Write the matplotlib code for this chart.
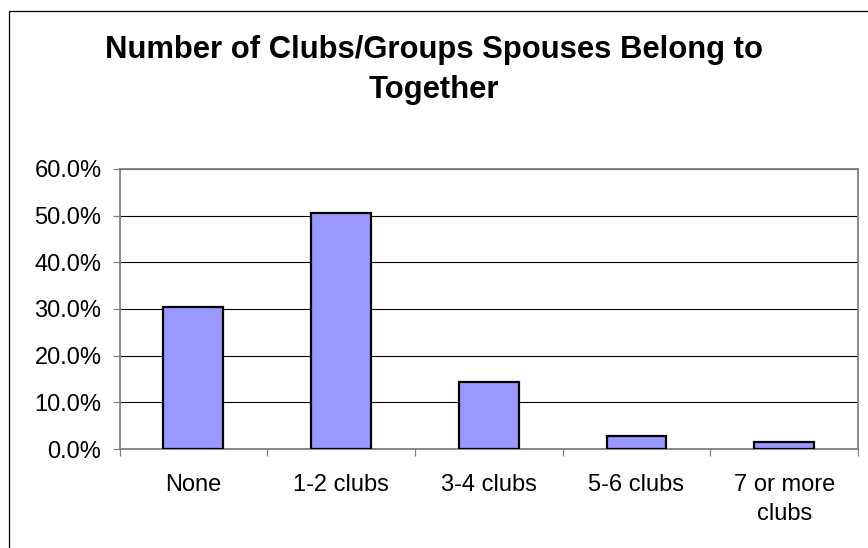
import matplotlib
matplotlib.use("Agg")
import matplotlib.pyplot as plt
from matplotlib.patches import Rectangle
from matplotlib.ticker import FuncFormatter, MultipleLocator, FixedLocator
import numpy as np

# Share of couples by number of clubs/groups both spouses belong to
categories = ["None", "1-2 clubs", "3-4 clubs", "5-6 clubs", "7 or more\nclubs"]
shares = [30.5, 50.5, 14.4, 2.8, 1.6]

TITLE = "Number of Clubs/Groups Spouses Belong to\nTogether"
BAR_COLOR = "#9999FF"
AXIS_GRAY = "#808080"

plt.rcParams["font.family"] = ["Liberation Sans", "DejaVu Sans"]

W, H = 868, 548
fig = plt.figure(figsize=(W / 100, H / 100), dpi=100)

# chart-area border (runs off the right and bottom edges)
fig.patches.append(Rectangle((8.5 / W, -0.05), 1.2, 1 - 11 / H + 0.05,
                             transform=fig.transFigure, fill=False,
                             edgecolor="black", linewidth=0.9))

ax = fig.add_axes([119.5 / W, 1 - 449 / H, (858 - 119.5) / W, (449 - 169) / H])

x = np.arange(len(categories))
ax.bar(x, shares, width=0.405, color=BAR_COLOR, edgecolor="black",
       linewidth=1.6, zorder=3)

ax.set_xlim(-0.5, len(categories) - 0.5)
ax.set_ylim(0, 60)
ax.yaxis.set_major_locator(MultipleLocator(10))
ax.yaxis.set_major_formatter(FuncFormatter(lambda v, _: f"{v:.1f}%"))
ax.grid(axis="y", color="black", linewidth=0.8, zorder=1)

# category labels sit between the boundary ticks
ax.xaxis.set_major_locator(FixedLocator(np.arange(len(categories) + 1) - 0.5))
ax.xaxis.set_major_formatter(FuncFormatter(lambda v, _: ""))
ax.xaxis.set_minor_locator(FixedLocator(x))
ax.set_xticklabels(categories, minor=True, fontsize=17, linespacing=1.42)
ax.tick_params(axis="x", which="minor", length=0, pad=18)
ax.tick_params(axis="x", which="major", length=5, width=0.9, color=AXIS_GRAY)
ax.tick_params(axis="y", length=5, width=0.9, color=AXIS_GRAY,
               labelsize=17, pad=8)

for side in ("left", "bottom", "right", "top"):
    ax.spines[side].set_color(AXIS_GRAY)
    ax.spines[side].set_linewidth(1.3)

fig.text(0.5, 1 - 35 / H, TITLE, ha="center", va="top",
         fontsize=22.3, fontweight="bold", linespacing=1.42)

fig.savefig("out.png", dpi=100)
